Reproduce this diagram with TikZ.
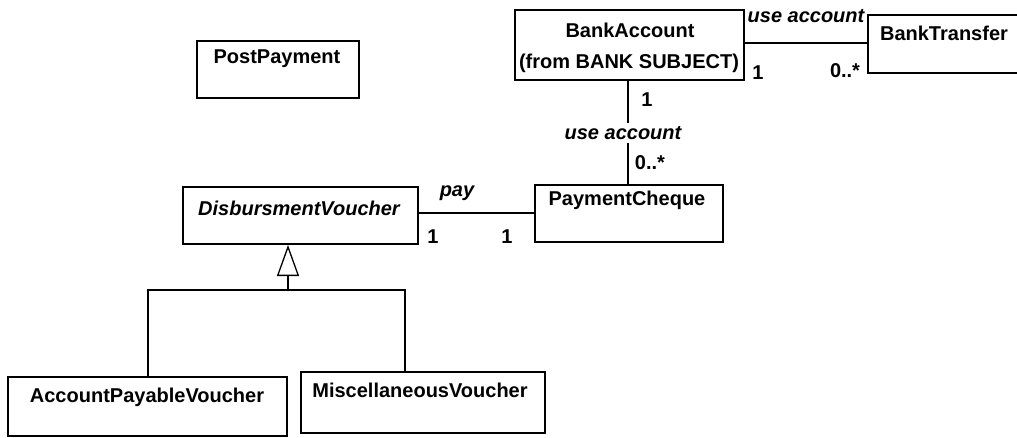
\documentclass[tikz,border=0pt]{standalone}
\usepackage{fontspec}
\setmainfont{Liberation Sans}
\usetikzlibrary{arrows.meta}
\begin{document}
\begin{tikzpicture}[x=1pt,y=-1pt,
  every node/.style={font=\fontsize{20}{24}\selectfont\bfseries},
  classbox/.style={draw, line width=2pt, rectangle, inner sep=0pt},
  txt/.style={inner sep=0pt, anchor=center},
  itxt/.style={inner sep=0pt, anchor=center, font=\fontsize{20}{24}\selectfont\bfseries\itshape},
  assoc/.style={line width=2.4pt},
  gen/.style={line width=1.3pt},
]
\clip (0,0) rectangle (1017,437);
\fill[white] (0,0) rectangle (1017,437);

% class boxes
\node[classbox, minimum width=162pt, minimum height=57pt] (pp)  at (278,69.5) {};
\node[classbox, minimum width=229pt, minimum height=70pt] (ba)  at (629.5,45) {};
\node[classbox, minimum width=154pt, minimum height=58pt] (bt)  at (945,44) {};
\node[classbox, minimum width=188pt, minimum height=57pt] (pc)  at (629,213.5) {};
\node[classbox, minimum width=235pt, minimum height=57pt] (dv)  at (300.5,215.5) {};
\node[classbox, minimum width=279pt, minimum height=59pt] (apv) at (147.5,406.5) {};
\node[classbox, minimum width=244pt, minimum height=61pt] (mv)  at (423,402.5) {};

% class names
\node[txt]  (ppT)  at (277,59)  {PostPayment};
\node[txt]  (baT1) at (630,30)  {BankAccount};
\node[txt]  (baT2) at (629,63)  {(from BANK SUBJECT)};
\node[txt]  (btT)  at (944,33)  {BankTransfer};
\node[txt]  (pcT)  at (627,200) {PaymentCheque};
\node[itxt] (dvT)  at (299,208) {DisbursmentVoucher};
\node[txt]  (apvT) at (147,397) {AccountPayableVoucher};
\node[txt]  (mvT)  at (420,390) {MiscellaneousVoucher};

% BankAccount -- BankTransfer
\draw[assoc] (ba.east |- 0,43) -- (bt.west |- 0,43);
\node[itxt] (l1) at (806,16) {use account};
\node[txt]  (m1) at (758,73) {1};
\node[txt]  (m2) at (845,71) {0..*};

% BankAccount -- PaymentCheque
\draw[line width=1.8pt] (ba.south -| 628,0) -- (pc.north -| 628,0);
\node[itxt, fill=white, inner ysep=3pt] (l2) at (623,133) {use account};
\node[txt]  (m3) at (647,100) {1};
\node[txt]  (m4) at (650,163) {0..*};

% DisbursmentVoucher -- PaymentCheque
\draw[assoc] (dv.east |- 0,213) -- (pc.west |- 0,213);
\node[itxt] (l3) at (457,193) {pay};
\node[txt]  (m5) at (433,237) {1};
\node[txt]  (m6) at (507,237) {1};

% generalization
\coordinate (jl) at (148,290);
\coordinate (jr) at (405,290);
\coordinate (jm) at (288,290);
\draw[gen] (apv.north -| jl) -- (jl) -- (jr) -- (mv.north -| jr);
\draw[gen, -{Triangle[open, length=31pt, width=22pt]}] (jm) -- (dv.south -| jm);
\end{tikzpicture}
\end{document}
